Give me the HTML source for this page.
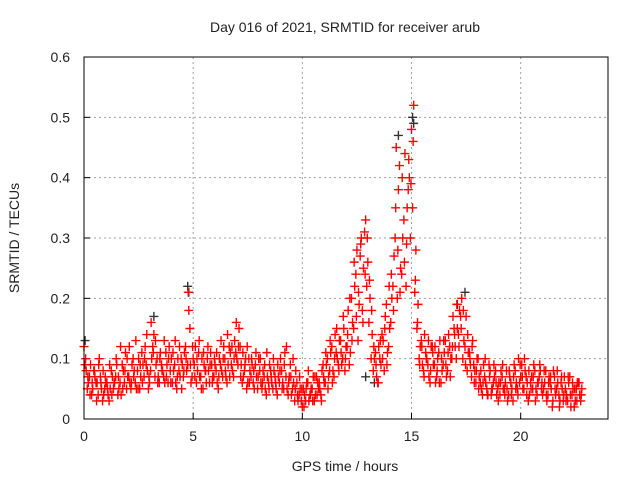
<!DOCTYPE html>
<html><head><meta charset="utf-8"><style>
html,body{margin:0;padding:0;background:#fff;}
svg{display:block;font-family:"Liberation Sans",sans-serif;}
</style></head><body>
<svg id="chart" width="640" height="480">
<text x="345" y="32" text-anchor="middle" font-size="14" fill="#222">Day 016 of 2021, SRMTID for receiver arub</text>
<text x="345" y="471" text-anchor="middle" font-size="14" fill="#222">GPS time / hours</text>
<text transform="translate(19,238) rotate(-90)" text-anchor="middle" font-size="14" fill="#222">SRMTID / TECUs</text>
<g id="grid"></g><g id="ticks"></g><g id="pts"></g>
<rect x="84" y="57" width="524" height="362" fill="none" stroke="#000" stroke-width="1"/>
</svg>
<script>
const xTicks=[0,5,10,15,20];
const yTicks=[0,0.1,0.2,0.3,0.4,0.5,0.6];
const yTickLabels=["0","0.1","0.2","0.3","0.4","0.5","0.6"];
const startA=0.0, startB=0.05, startC=0.075, stepHours=0.1;
const seriesA=[0.12,0.08,0.06,0.09,0.05,0.07,0.06,0.10,0.05,0.04,0.06,
0.04,0.05,0.07,0.06,0.09,0.05,0.04,0.08,0.11,0.07,
0.06,0.09,0.08,0.05,0.10,0.07,0.09,0.12,0.08,0.06,
0.10,0.14,0.09,0.07,0.11,0.08,0.06,0.09,0.12,0.10,
0.08,0.06,0.10,0.07,0.09,0.11,0.08,0.18,0.06,0.10,
0.12,0.08,0.07,0.10,0.09,0.06,0.08,0.11,0.07,0.09,
0.06,0.10,0.08,0.12,0.07,0.09,0.11,0.08,0.13,0.10,
0.15,0.09,0.07,0.10,0.06,0.08,0.09,0.05,0.07,0.10,
0.06,0.08,0.05,0.07,0.09,0.06,0.08,0.05,0.07,0.10,
0.06,0.11,0.05,0.07,0.04,0.06,0.08,0.03,0.05,0.02,
0.04,0.06,0.03,0.05,0.07,0.04,0.06,0.05,0.08,0.06,
0.09,0.07,0.11,0.08,0.14,0.10,0.13,0.09,0.15,0.12,
0.18,0.11,0.16,0.22,0.28,0.19,0.30,0.25,0.33,0.26,
0.20,0.14,0.10,0.07,0.12,0.09,0.13,0.17,0.11,0.15,
0.20,0.27,0.45,0.38,0.25,0.30,0.44,0.35,0.40,0.48,
0.52,0.28,0.19,0.12,0.09,0.14,0.10,0.07,0.12,0.09,
0.06,0.10,0.13,0.08,0.11,0.07,0.14,0.10,0.17,0.12,
0.15,0.18,0.20,0.13,0.17,0.11,0.09,0.13,0.08,0.10,
0.07,0.05,0.09,0.06,0.04,0.08,0.05,0.07,0.04,0.06,
0.08,0.05,0.06,0.03,0.07,0.05,0.09,0.06,0.10,0.07,
0.05,0.08,0.06,0.04,0.07,0.09,0.05,0.06,0.08,0.04,
0.06,0.03,0.07,0.05,0.08,0.04,0.06,0.03,0.05,0.07,
0.04,0.06,0.02,0.05,0.03,0.06,0.04,0.05];
const seriesB=[0.09,0.05,0.07,0.04,0.08,0.06,0.04,0.07,0.03,0.05,
0.06,0.03,0.08,0.05,0.07,0.04,0.06,0.09,0.06,0.05,
0.07,0.05,0.10,0.06,0.08,0.05,0.11,0.07,0.09,0.05,
0.08,0.12,0.07,0.10,0.06,0.09,0.07,0.11,0.06,0.08,
0.06,0.09,0.05,0.08,0.10,0.07,0.12,0.09,0.15,0.07,
0.09,0.06,0.11,0.07,0.05,0.08,0.10,0.06,0.09,0.07,
0.08,0.05,0.09,0.07,0.10,0.06,0.12,0.09,0.07,0.11,
0.09,0.12,0.06,0.08,0.05,0.10,0.07,0.06,0.09,0.05,
0.08,0.05,0.07,0.04,0.06,0.08,0.05,0.07,0.04,0.06,
0.08,0.05,0.07,0.04,0.09,0.05,0.03,0.06,0.04,0.03,
0.05,0.03,0.06,0.04,0.05,0.03,0.07,0.05,0.04,0.09,
0.06,0.10,0.08,0.12,0.07,0.11,0.09,0.13,0.10,0.08,
0.12,0.09,0.20,0.15,0.24,0.13,0.27,0.18,0.31,0.22,
0.16,0.10,0.08,0.11,0.06,0.10,0.14,0.08,0.19,0.12,
0.16,0.22,0.30,0.20,0.42,0.24,0.33,0.22,0.38,0.30,
0.35,0.21,0.15,0.10,0.13,0.08,0.11,0.09,0.06,0.12,
0.09,0.07,0.11,0.06,0.09,0.13,0.08,0.12,0.10,0.15,
0.10,0.14,0.17,0.10,0.12,0.08,0.11,0.07,0.09,0.06,
0.10,0.06,0.04,0.07,0.05,0.09,0.04,0.06,0.08,0.05,
0.04,0.07,0.05,0.08,0.04,0.06,0.03,0.08,0.05,0.06,
0.09,0.05,0.07,0.03,0.06,0.05,0.08,0.04,0.07,0.05,
0.05,0.08,0.04,0.06,0.02,0.07,0.05,0.04,0.06,0.03,
0.05,0.03,0.07,0.04,0.02,0.05,0.06,0.03];
const seriesC=[0.10,0.07,0.04,0.06,0.08,0.03,0.09,0.06,0.08,0.07,
0.05,0.09,0.04,0.06,0.10,0.07,0.12,0.05,0.08,0.10,
0.12,0.06,0.07,0.13,0.05,0.09,0.06,0.10,0.14,0.07,
0.16,0.11,0.13,0.06,0.10,0.08,0.13,0.07,0.10,0.06,
0.11,0.13,0.07,0.12,0.05,0.08,0.10,0.21,0.09,0.12,
0.07,0.10,0.13,0.05,0.11,0.08,0.12,0.09,0.06,0.10,
0.11,0.07,0.13,0.10,0.08,0.14,0.07,0.12,0.10,0.16,
0.12,0.07,0.11,0.09,0.12,0.06,0.10,0.08,0.11,0.07,
0.10,0.06,0.09,0.11,0.05,0.07,0.10,0.06,0.09,0.08,
0.05,0.09,0.12,0.06,0.07,0.10,0.05,0.04,0.07,0.05,
0.02,0.05,0.08,0.04,0.03,0.07,0.04,0.06,0.03,0.07,
0.11,0.05,0.13,0.06,0.10,0.15,0.08,0.11,0.17,0.10,
0.14,0.20,0.13,0.26,0.17,0.21,0.29,0.16,0.24,0.30,
0.23,0.18,0.12,0.09,0.06,0.13,0.10,0.15,0.09,0.22,
0.24,0.18,0.35,0.28,0.21,0.40,0.26,0.29,0.43,0.39,
0.46,0.23,0.16,0.09,0.12,0.07,0.10,0.13,0.08,0.11,
0.12,0.08,0.06,0.10,0.13,0.09,0.11,0.07,0.12,0.14,
0.19,0.12,0.15,0.18,0.09,0.14,0.10,0.12,0.06,0.08,
0.05,0.08,0.06,0.10,0.04,0.07,0.05,0.09,0.06,0.03,
0.06,0.09,0.04,0.05,0.08,0.04,0.07,0.05,0.04,0.09,
0.07,0.10,0.04,0.08,0.05,0.07,0.03,0.06,0.09,0.06,
0.08,0.04,0.06,0.07,0.03,0.05,0.08,0.02,0.07,0.04,
0.03,0.07,0.04,0.06,0.05,0.03,0.06,0.04];
const blackTimes=[0.05,3.2,4.75,4.8,12.9,13.3,14.4,15.05,15.1,17.1,17.45,22.6];
const blackValues=[0.13,0.17,0.22,0.21,0.07,0.06,0.47,0.50,0.49,0.19,0.21,0.06];

const X0=84,X1=608,Y0=419,Y1=57,XMAX=24,YMAX=0.6;
function xs(h){return X0+(X1-X0)*h/XMAX;}
function ys(v){return Y0-(Y0-Y1)*v/YMAX;}
const NS="http://www.w3.org/2000/svg";
const grid=document.getElementById('grid'),ticks=document.getElementById('ticks'),pts=document.getElementById('pts');
function mk(tag,attrs,parent){const e=document.createElementNS(NS,tag);for(const k in attrs)e.setAttribute(k,attrs[k]);parent.appendChild(e);return e;}
xTicks.forEach(t=>{
  const x=xs(t);
  if(t>0){const g=mk('line',{x1:x,x2:x,y1:Y1,y2:Y0,stroke:'#a0a0a0','stroke-dasharray':'2,3'},grid);
  
  }
  const tk=mk('line',{x1:x,x2:x,y1:Y0,y2:Y0-6,stroke:'#000'},ticks);
  
  
  const lb=mk('text',{x:x,y:Y0+22,'text-anchor':'middle','font-size':'14',fill:'#222'},ticks);
  lb.textContent=String(t);
  
  
});
yTicks.forEach((t,i)=>{
  const y=ys(t);
  if(t>0&&t<YMAX){const g=mk('line',{x1:X0,x2:X1,y1:y,y2:y,stroke:'#a0a0a0','stroke-dasharray':'2,3'},grid);
  
  }
  const tk=mk('line',{x1:X0,x2:X0+6,y1:y,y2:y,stroke:'#000'},ticks);
  
  
  const lb=mk('text',{x:X0-14,y:y+5,'text-anchor':'end','font-size':'14',fill:'#222'},ticks);
  lb.textContent=yTickLabels[i];
  
  
});
function plus(h,v,color,name){
  const x=xs(h),y=ys(v);
  const p=mk('path',{d:`M${x-4.5},${y}H${x+4.5}M${x},${y-4.5}V${y+4.5}`,stroke:color,'stroke-width':'1.4',fill:'none'},pts);
  
  
}
blackTimes.forEach((t,i)=>plus(t,blackValues[i],'#333','black-point'));
seriesA.forEach((v,i)=>plus(startA+i*stepHours,v,'#ff0000','red-point'));
seriesB.forEach((v,i)=>plus(startB+i*stepHours,v,'#ff0000','red-point'));
seriesC.forEach((v,i)=>plus(startC+i*stepHours,v,'#ff0000','red-point'));
</script>
</body></html>
